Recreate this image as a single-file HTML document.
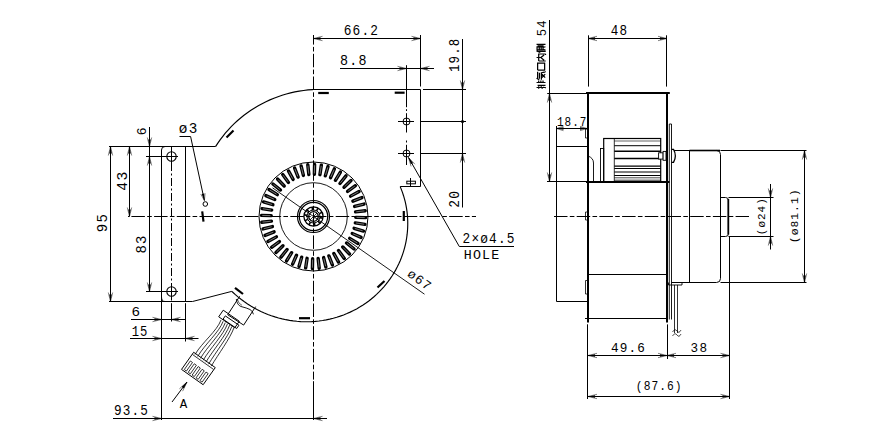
<!DOCTYPE html>
<html><head><meta charset="utf-8"><style>
html,body{margin:0;padding:0;background:#fff;}
body{width:870px;height:445px;overflow:hidden;}
svg{display:block;}
text{font-family:"Liberation Mono",monospace;fill:#000;stroke:none;}
</style></head><body>
<svg width="870" height="445" viewBox="0 0 870 445">
<g fill="none" stroke="#000">
<line x1="128.00" y1="216.50" x2="476.00" y2="216.50" stroke-width="1" stroke-dasharray="13.5 2.3 4.6 2.3" stroke-dashoffset="19.3"/>
<line x1="313.50" y1="35.00" x2="313.50" y2="379.60" stroke-width="1" stroke-dasharray="13.5 2.3 4.6 2.3" stroke-dashoffset="3.9"/>
<line x1="313.50" y1="381.20" x2="313.50" y2="420.00" stroke-width="1.0" />
<path d="M400.18,186.65 L401.41,189.62 L402.53,192.65 L403.54,195.71 L404.45,198.82 L405.26,201.97 L405.95,205.15 L406.53,208.36 L407.01,211.60 L407.36,214.86 L407.61,218.14 L407.74,221.44 L407.75,224.75 L407.65,228.06 L407.43,231.38 L407.09,234.69 L406.64,238.00 L406.07,241.30 L405.38,244.59 L404.57,247.86 L403.65,251.11 L402.61,254.33 L401.46,257.52 L400.19,260.67 L398.81,263.79 L397.32,266.86 L395.72,269.89 L394.00,272.87 L392.18,275.79 L390.26,278.66 L388.22,281.46 L386.09,284.19 L383.86,286.86 L381.52,289.45 L379.10,291.96 L376.58,294.40 L373.97,296.74 L371.27,299.01 L368.49,301.18 L365.63,303.25 L362.69,305.23 L359.67,307.11 L356.58,308.89 L353.43,310.56 L350.21,312.13 L346.93,313.58 L343.59,314.92 L340.20,316.15 L336.76,317.26 L333.28,318.25 L329.75,319.12 L326.19,319.87 L322.60,320.49 L318.98,320.99 L315.33,321.36 L311.67,321.60 L307.99,321.72 L304.30,321.71 L300.60,321.56 L296.90,321.29 L293.21,320.89 L289.52,320.35 L285.85,319.69 L282.19,318.90 L278.56,317.97 L274.95,316.92 L271.38,315.74 L267.83,314.43 L264.33,312.99 L260.88,311.43 L257.47,309.75 L254.12,307.94 L250.82,306.01 L247.59,303.97 L244.42,301.80 L241.33,299.52 L238.31,297.13 L235.37,294.63 L232.51,292.03 L231.81,291.36" stroke-width="1.15" />
<path d="M215.53,146.62 L217.84,143.10 L220.27,139.65 L222.83,136.28 L225.50,132.99 L228.30,129.80 L231.21,126.70 L234.24,123.70 L237.37,120.80 L240.61,118.00 L243.96,115.32 L247.40,112.74 L250.94,110.29 L254.57,107.96 L258.28,105.75 L262.08,103.66 L265.95,101.71 L269.90,99.89 L273.92,98.21 L278.00,96.67 L282.15,95.27 L286.34,94.01 L290.59,92.89 L294.88,91.93 L299.21,91.11 L303.58,90.45 L307.97,89.93 L312.39,89.57 L313.50,89.51" stroke-width="1.15" />
<line x1="313.50" y1="89.50" x2="420.50" y2="89.50" stroke-width="1.0" />
<line x1="420.50" y1="89.50" x2="420.50" y2="186.50" stroke-width="1.0" />
<line x1="400.18" y1="186.50" x2="420.50" y2="186.50" stroke-width="1.0" />
<line x1="109.00" y1="146.50" x2="215.53" y2="146.50" stroke-width="1.0" />
<line x1="109.00" y1="301.50" x2="192.50" y2="301.50" stroke-width="1.0" />
<line x1="192.50" y1="301.50" x2="231.81" y2="291.36" stroke-width="1.0" />
<path d="M161.5,420 L161.5,150 Q161.5,146.5 165,146.5" stroke-width="1" />
<path d="M161.5,297 Q161.5,301.5 165,301.5" stroke-width="1" />
<line x1="185.50" y1="146.50" x2="185.50" y2="301.50" stroke-width="1.0" />
<line x1="185.50" y1="303.20" x2="185.50" y2="341.50" stroke-width="1.0" />
<line x1="171.50" y1="147.00" x2="171.50" y2="163.00" stroke-width="1" />
<line x1="171.50" y1="163.00" x2="171.50" y2="285.00" stroke-width="1" stroke-dasharray="8 2.5 2 2.5"/>
<line x1="171.50" y1="285.00" x2="171.50" y2="300.50" stroke-width="1" />
<line x1="171.50" y1="303.20" x2="171.50" y2="321.50" stroke-width="1" />
<circle cx="171.50" cy="156.50" r="4.70" stroke-width="1.1" />
<line x1="146.00" y1="156.50" x2="178.00" y2="156.50" stroke-width="1.0" />
<circle cx="171.50" cy="291.50" r="4.70" stroke-width="1.1" />
<line x1="146.00" y1="291.50" x2="178.00" y2="291.50" stroke-width="1.0" />
<line x1="110.50" y1="146.50" x2="110.50" y2="301.50" stroke-width="1.0" />
<path d="M112.70,155.50 L110.50,146.50 L108.30,155.50" stroke-width="0.7" stroke-opacity="0.7"/>
<path d="M110.50,146.50 L111.80,153.50 L109.20,153.50Z" stroke-width="0" fill="#000"/>
<path d="M108.30,292.50 L110.50,301.50 L112.70,292.50" stroke-width="0.7" stroke-opacity="0.7"/>
<path d="M110.50,301.50 L109.20,294.50 L111.80,294.50Z" stroke-width="0" fill="#000"/>
<line x1="129.50" y1="146.50" x2="129.50" y2="216.50" stroke-width="1.0" />
<path d="M131.70,155.50 L129.50,146.50 L127.30,155.50" stroke-width="0.7" stroke-opacity="0.7"/>
<path d="M129.50,146.50 L130.80,153.50 L128.20,153.50Z" stroke-width="0" fill="#000"/>
<path d="M127.30,207.50 L129.50,216.50 L131.70,207.50" stroke-width="0.7" stroke-opacity="0.7"/>
<path d="M129.50,216.50 L128.20,209.50 L130.80,209.50Z" stroke-width="0" fill="#000"/>
<line x1="149.50" y1="127.00" x2="149.50" y2="291.50" stroke-width="1.0" />
<path d="M147.30,137.50 L149.50,146.50 L151.70,137.50" stroke-width="0.7" stroke-opacity="0.7"/>
<path d="M149.50,146.50 L148.20,139.50 L150.80,139.50Z" stroke-width="0" fill="#000"/>
<path d="M151.70,165.50 L149.50,156.50 L147.30,165.50" stroke-width="0.7" stroke-opacity="0.7"/>
<path d="M149.50,156.50 L150.80,163.50 L148.20,163.50Z" stroke-width="0" fill="#000"/>
<path d="M147.30,282.50 L149.50,291.50 L151.70,282.50" stroke-width="0.7" stroke-opacity="0.7"/>
<path d="M149.50,291.50 L148.20,284.50 L150.80,284.50Z" stroke-width="0" fill="#000"/>
<g transform="translate(101.90,223.05) scale(1.067,1.073) translate(-95.50,-91.50)"><text x="100" y="100" font-size="13" letter-spacing="1.2" transform="rotate(-90 100 100)">95</text></g>
<g transform="translate(122.20,181.00) scale(1.067,1.133) translate(-95.50,-91.50)"><text x="100" y="100" font-size="13" letter-spacing="1.2" transform="rotate(-90 100 100)">43</text></g>
<g transform="translate(141.70,131.35) scale(1.000,1.000) translate(-95.50,-96.00)"><text x="100" y="100" font-size="13" letter-spacing="1.2" transform="rotate(-90 100 100)">6</text></g>
<g transform="translate(141.40,244.40) scale(1.067,1.067) translate(-95.50,-91.50)"><text x="100" y="100" font-size="13" letter-spacing="1.2" transform="rotate(-90 100 100)">83</text></g>
<line x1="131.00" y1="319.50" x2="185.50" y2="319.50" stroke-width="1.0" />
<path d="M152.50,321.70 L161.50,319.50 L152.50,317.30" stroke-width="0.7" stroke-opacity="0.7"/>
<path d="M161.50,319.50 L154.50,320.80 L154.50,318.20Z" stroke-width="0" fill="#000"/>
<path d="M180.50,317.30 L171.50,319.50 L180.50,321.70" stroke-width="0.7" stroke-opacity="0.7"/>
<path d="M171.50,319.50 L178.50,318.20 L178.50,320.80Z" stroke-width="0" fill="#000"/>
<g transform="translate(135.90,311.30) scale(1.100,1.044) translate(-104.00,-95.50)"><text x="100" y="100" font-size="13" letter-spacing="1.2" transform="rotate(0 100 100)">6</text></g>
<line x1="130.00" y1="338.50" x2="198.50" y2="338.50" stroke-width="1.0" />
<path d="M152.50,340.70 L161.50,338.50 L152.50,336.30" stroke-width="0.7" stroke-opacity="0.7"/>
<path d="M161.50,338.50 L154.50,339.80 L154.50,337.20Z" stroke-width="0" fill="#000"/>
<path d="M194.50,336.30 L185.50,338.50 L194.50,340.70" stroke-width="0.7" stroke-opacity="0.7"/>
<path d="M185.50,338.50 L192.50,337.20 L192.50,339.80Z" stroke-width="0" fill="#000"/>
<g transform="translate(139.65,330.80) scale(0.940,1.067) translate(-108.50,-95.50)"><text x="100" y="100" font-size="13" letter-spacing="1.2" transform="rotate(0 100 100)">15</text></g>
<line x1="113.00" y1="418.50" x2="327.00" y2="418.50" stroke-width="1.0" />
<path d="M152.50,420.70 L161.50,418.50 L152.50,416.30" stroke-width="0.7" stroke-opacity="0.7"/>
<path d="M161.50,418.50 L154.50,419.80 L154.50,417.20Z" stroke-width="0" fill="#000"/>
<path d="M322.50,416.30 L313.50,418.50 L322.50,420.70" stroke-width="0.7" stroke-opacity="0.7"/>
<path d="M313.50,418.50 L320.50,417.20 L320.50,419.80Z" stroke-width="0" fill="#000"/>
<g transform="translate(131.05,409.95) scale(0.979,1.122) translate(-117.50,-95.50)"><text x="100" y="100" font-size="13" letter-spacing="1.2" transform="rotate(0 100 100)">93.5</text></g>
<line x1="313.50" y1="38.50" x2="420.50" y2="38.50" stroke-width="1.0" />
<path d="M322.50,36.30 L313.50,38.50 L322.50,40.70" stroke-width="0.7" stroke-opacity="0.7"/>
<path d="M313.50,38.50 L320.50,37.20 L320.50,39.80Z" stroke-width="0" fill="#000"/>
<path d="M411.50,40.70 L420.50,38.50 L411.50,36.30" stroke-width="0.7" stroke-opacity="0.7"/>
<path d="M420.50,38.50 L413.50,39.80 L413.50,37.20Z" stroke-width="0" fill="#000"/>
<line x1="420.50" y1="35.00" x2="420.50" y2="86.50" stroke-width="1.0" />
<g transform="translate(361.00,30.15) scale(0.988,1.056) translate(-117.50,-95.50)"><text x="100" y="100" font-size="13" letter-spacing="1.2" transform="rotate(0 100 100)">66.2</text></g>
<line x1="340.00" y1="68.50" x2="434.00" y2="68.50" stroke-width="1.0" />
<path d="M397.50,70.70 L406.50,68.50 L397.50,66.30" stroke-width="0.7" stroke-opacity="0.7"/>
<path d="M406.50,68.50 L399.50,69.80 L399.50,67.20Z" stroke-width="0" fill="#000"/>
<path d="M429.50,66.30 L420.50,68.50 L429.50,70.70" stroke-width="0.7" stroke-opacity="0.7"/>
<path d="M420.50,68.50 L427.50,67.20 L427.50,69.80Z" stroke-width="0" fill="#000"/>
<g transform="translate(353.30,59.95) scale(1.025,1.078) translate(-113.00,-95.50)"><text x="100" y="100" font-size="13" letter-spacing="1.2" transform="rotate(0 100 100)">8.8</text></g>
<line x1="406.50" y1="65.20" x2="406.50" y2="107.20" stroke-width="1.0" />
<line x1="406.50" y1="109.20" x2="406.50" y2="111.00" stroke-width="1.0" />
<line x1="406.50" y1="113.20" x2="406.50" y2="132.50" stroke-width="1.0" />
<line x1="406.50" y1="140.50" x2="406.50" y2="142.50" stroke-width="1.0" />
<line x1="406.50" y1="144.80" x2="406.50" y2="165.00" stroke-width="1.0" />
<circle cx="406.50" cy="121.50" r="3.50" stroke-width="1.0" />
<line x1="398.00" y1="121.50" x2="414.00" y2="121.50" stroke-width="1.0" />
<line x1="420.50" y1="121.50" x2="466.00" y2="121.50" stroke-width="1.0" />
<circle cx="406.50" cy="153.50" r="3.50" stroke-width="1.0" />
<line x1="398.00" y1="153.50" x2="414.00" y2="153.50" stroke-width="1.0" />
<line x1="420.50" y1="153.50" x2="466.00" y2="153.50" stroke-width="1.0" />
<line x1="423.00" y1="89.50" x2="466.00" y2="89.50" stroke-width="1.0" />
<line x1="462.50" y1="39.00" x2="462.50" y2="207.50" stroke-width="1.0" />
<path d="M460.30,80.50 L462.50,89.50 L464.70,80.50" stroke-width="0.7" stroke-opacity="0.7"/>
<path d="M462.50,89.50 L461.20,82.50 L463.80,82.50Z" stroke-width="0" fill="#000"/>
<path d="M464.70,162.50 L462.50,153.50 L460.30,162.50" stroke-width="0.7" stroke-opacity="0.7"/>
<path d="M462.50,153.50 L463.80,160.50 L461.20,160.50Z" stroke-width="0" fill="#000"/>
<circle cx="462.50" cy="121.50" r="1.60" stroke-width="0" fill="#000"/>
<g transform="translate(454.35,55.30) scale(1.056,0.952) translate(-95.50,-82.50)"><text x="100" y="100" font-size="13" letter-spacing="1.2" transform="rotate(-90 100 100)">19.8</text></g>
<g transform="translate(454.15,199.28) scale(1.056,0.997) translate(-95.50,-91.50)"><text x="100" y="100" font-size="13" letter-spacing="1.2" transform="rotate(-90 100 100)">20</text></g>
<rect x="406.8" y="181.2" width="8.6" height="2.6" stroke-width="1"/>
<line x1="410.50" y1="178.00" x2="410.50" y2="186.50" stroke-width="1.0" />
<line x1="408.50" y1="157.50" x2="459.30" y2="246.50" stroke-width="1.0" />
<line x1="459.30" y1="246.50" x2="514.00" y2="246.50" stroke-width="1.0" />
<path d="M414.89,164.21 L408.50,157.50 L411.08,166.40" stroke-width="0.7" stroke-opacity="0.7"/>
<path d="M408.50,157.50 L413.12,162.92 L410.86,164.22Z" stroke-width="0" fill="#000"/>
<g transform="translate(488.65,238.15) scale(0.986,1.144) translate(-126.50,-95.50)"><text x="100" y="100" font-size="13" letter-spacing="1.2" transform="rotate(0 100 100)">2×ø4.5</text></g>
<g transform="translate(481.60,254.30) scale(1.024,1.000) translate(-117.50,-95.50)"><text x="100" y="100" font-size="13" letter-spacing="1.2" transform="rotate(0 100 100)">HOLE</text></g>
<circle cx="313.50" cy="216.50" r="54.50" stroke-width="1.0" />
<circle cx="313.50" cy="216.50" r="33.80" stroke-width="0.9" />
<circle cx="313.50" cy="216.50" r="16.00" stroke-width="1.2" />
<circle cx="313.50" cy="216.50" r="14.20" stroke-width="1.2" />
<circle cx="313.50" cy="216.50" r="9.60" stroke-width="1.3" />
<line x1="319.90" y1="217.63" x2="322.95" y2="218.17" stroke-width="1.6" />
<line x1="318.02" y1="221.18" x2="320.17" y2="223.41" stroke-width="1.6" />
<line x1="314.40" y1="222.94" x2="314.84" y2="226.01" stroke-width="1.6" />
<line x1="310.45" y1="222.24" x2="308.99" y2="224.98" stroke-width="1.6" />
<line x1="307.66" y1="219.35" x2="304.87" y2="220.71" stroke-width="1.6" />
<line x1="307.10" y1="215.37" x2="304.05" y2="214.83" stroke-width="1.6" />
<line x1="308.98" y1="211.82" x2="306.83" y2="209.59" stroke-width="1.6" />
<line x1="312.60" y1="210.06" x2="312.16" y2="206.99" stroke-width="1.6" />
<line x1="316.55" y1="210.76" x2="318.01" y2="208.02" stroke-width="1.6" />
<line x1="319.34" y1="213.65" x2="322.13" y2="212.29" stroke-width="1.6" />
<circle cx="313.50" cy="216.50" r="6.50" stroke-width="1.0" />
<circle cx="313.50" cy="216.50" r="4.80" stroke-width="1.3" />
<line x1="310.00" y1="220.00" x2="317.00" y2="213.00" stroke-width="0.8" />
<line x1="311.50" y1="221.00" x2="318.00" y2="214.50" stroke-width="0.6" />
<line x1="355.79" y1="217.39" x2="365.49" y2="217.59" stroke-width="3.4" stroke-linecap="round"/>
<line x1="356.95" y1="217.41" x2="364.32" y2="217.56" stroke-width="0.9" stroke="#fff" stroke-opacity="0.5" stroke-linecap="round"/>
<line x1="355.31" y1="222.90" x2="364.90" y2="224.37" stroke-width="3.4" stroke-linecap="round"/>
<line x1="356.46" y1="223.07" x2="363.75" y2="224.19" stroke-width="0.9" stroke="#fff" stroke-opacity="0.5" stroke-linecap="round"/>
<line x1="354.12" y1="228.30" x2="363.44" y2="231.01" stroke-width="3.4" stroke-linecap="round"/>
<line x1="355.24" y1="228.63" x2="362.32" y2="230.68" stroke-width="0.9" stroke="#fff" stroke-opacity="0.5" stroke-linecap="round"/>
<line x1="352.23" y1="233.50" x2="361.11" y2="237.40" stroke-width="3.4" stroke-linecap="round"/>
<line x1="353.30" y1="233.97" x2="360.05" y2="236.93" stroke-width="0.9" stroke="#fff" stroke-opacity="0.5" stroke-linecap="round"/>
<line x1="349.68" y1="238.41" x2="357.98" y2="243.44" stroke-width="3.4" stroke-linecap="round"/>
<line x1="350.68" y1="239.02" x2="356.98" y2="242.83" stroke-width="0.9" stroke="#fff" stroke-opacity="0.5" stroke-linecap="round"/>
<line x1="346.51" y1="242.95" x2="354.08" y2="249.01" stroke-width="3.4" stroke-linecap="round"/>
<line x1="347.42" y1="243.68" x2="353.17" y2="248.28" stroke-width="0.9" stroke="#fff" stroke-opacity="0.5" stroke-linecap="round"/>
<line x1="342.78" y1="247.03" x2="349.49" y2="254.03" stroke-width="3.4" stroke-linecap="round"/>
<line x1="343.58" y1="247.87" x2="348.69" y2="253.19" stroke-width="0.9" stroke="#fff" stroke-opacity="0.5" stroke-linecap="round"/>
<line x1="338.54" y1="250.59" x2="344.28" y2="258.41" stroke-width="3.4" stroke-linecap="round"/>
<line x1="339.23" y1="251.53" x2="343.60" y2="257.47" stroke-width="0.9" stroke="#fff" stroke-opacity="0.5" stroke-linecap="round"/>
<line x1="333.88" y1="253.57" x2="338.55" y2="262.07" stroke-width="3.4" stroke-linecap="round"/>
<line x1="334.44" y1="254.59" x2="337.99" y2="261.05" stroke-width="0.9" stroke="#fff" stroke-opacity="0.5" stroke-linecap="round"/>
<line x1="328.87" y1="255.91" x2="332.39" y2="264.95" stroke-width="3.4" stroke-linecap="round"/>
<line x1="329.29" y1="257.00" x2="331.97" y2="263.86" stroke-width="0.9" stroke="#fff" stroke-opacity="0.5" stroke-linecap="round"/>
<line x1="323.59" y1="257.58" x2="325.90" y2="267.00" stroke-width="3.4" stroke-linecap="round"/>
<line x1="323.87" y1="258.71" x2="325.63" y2="265.87" stroke-width="0.9" stroke="#fff" stroke-opacity="0.5" stroke-linecap="round"/>
<line x1="318.14" y1="258.54" x2="319.21" y2="268.19" stroke-width="3.4" stroke-linecap="round"/>
<line x1="318.27" y1="259.70" x2="319.08" y2="267.03" stroke-width="0.9" stroke="#fff" stroke-opacity="0.5" stroke-linecap="round"/>
<line x1="312.61" y1="258.79" x2="312.41" y2="268.49" stroke-width="3.4" stroke-linecap="round"/>
<line x1="312.59" y1="259.95" x2="312.44" y2="267.32" stroke-width="0.9" stroke="#fff" stroke-opacity="0.5" stroke-linecap="round"/>
<line x1="307.10" y1="258.31" x2="305.63" y2="267.90" stroke-width="3.4" stroke-linecap="round"/>
<line x1="306.93" y1="259.46" x2="305.81" y2="266.75" stroke-width="0.9" stroke="#fff" stroke-opacity="0.5" stroke-linecap="round"/>
<line x1="301.70" y1="257.12" x2="298.99" y2="266.44" stroke-width="3.4" stroke-linecap="round"/>
<line x1="301.37" y1="258.24" x2="299.32" y2="265.32" stroke-width="0.9" stroke="#fff" stroke-opacity="0.5" stroke-linecap="round"/>
<line x1="296.50" y1="255.23" x2="292.60" y2="264.11" stroke-width="3.4" stroke-linecap="round"/>
<line x1="296.03" y1="256.30" x2="293.07" y2="263.05" stroke-width="0.9" stroke="#fff" stroke-opacity="0.5" stroke-linecap="round"/>
<line x1="291.59" y1="252.68" x2="286.56" y2="260.98" stroke-width="3.4" stroke-linecap="round"/>
<line x1="290.98" y1="253.68" x2="287.17" y2="259.98" stroke-width="0.9" stroke="#fff" stroke-opacity="0.5" stroke-linecap="round"/>
<line x1="287.05" y1="249.51" x2="280.99" y2="257.08" stroke-width="3.4" stroke-linecap="round"/>
<line x1="286.32" y1="250.42" x2="281.72" y2="256.17" stroke-width="0.9" stroke="#fff" stroke-opacity="0.5" stroke-linecap="round"/>
<line x1="282.97" y1="245.78" x2="275.97" y2="252.49" stroke-width="3.4" stroke-linecap="round"/>
<line x1="282.13" y1="246.58" x2="276.81" y2="251.69" stroke-width="0.9" stroke="#fff" stroke-opacity="0.5" stroke-linecap="round"/>
<line x1="279.41" y1="241.54" x2="271.59" y2="247.28" stroke-width="3.4" stroke-linecap="round"/>
<line x1="278.47" y1="242.23" x2="272.53" y2="246.60" stroke-width="0.9" stroke="#fff" stroke-opacity="0.5" stroke-linecap="round"/>
<line x1="276.43" y1="236.88" x2="267.93" y2="241.55" stroke-width="3.4" stroke-linecap="round"/>
<line x1="275.41" y1="237.44" x2="268.95" y2="240.99" stroke-width="0.9" stroke="#fff" stroke-opacity="0.5" stroke-linecap="round"/>
<line x1="274.09" y1="231.87" x2="265.05" y2="235.39" stroke-width="3.4" stroke-linecap="round"/>
<line x1="273.00" y1="232.29" x2="266.14" y2="234.97" stroke-width="0.9" stroke="#fff" stroke-opacity="0.5" stroke-linecap="round"/>
<line x1="272.42" y1="226.59" x2="263.00" y2="228.90" stroke-width="3.4" stroke-linecap="round"/>
<line x1="271.29" y1="226.87" x2="264.13" y2="228.63" stroke-width="0.9" stroke="#fff" stroke-opacity="0.5" stroke-linecap="round"/>
<line x1="271.46" y1="221.14" x2="261.81" y2="222.21" stroke-width="3.4" stroke-linecap="round"/>
<line x1="270.30" y1="221.27" x2="262.97" y2="222.08" stroke-width="0.9" stroke="#fff" stroke-opacity="0.5" stroke-linecap="round"/>
<line x1="271.21" y1="215.61" x2="261.51" y2="215.41" stroke-width="3.4" stroke-linecap="round"/>
<line x1="270.05" y1="215.59" x2="262.68" y2="215.44" stroke-width="0.9" stroke="#fff" stroke-opacity="0.5" stroke-linecap="round"/>
<line x1="271.69" y1="210.10" x2="262.10" y2="208.63" stroke-width="3.4" stroke-linecap="round"/>
<line x1="270.54" y1="209.93" x2="263.25" y2="208.81" stroke-width="0.9" stroke="#fff" stroke-opacity="0.5" stroke-linecap="round"/>
<line x1="272.88" y1="204.70" x2="263.56" y2="201.99" stroke-width="3.4" stroke-linecap="round"/>
<line x1="271.76" y1="204.37" x2="264.68" y2="202.32" stroke-width="0.9" stroke="#fff" stroke-opacity="0.5" stroke-linecap="round"/>
<line x1="274.77" y1="199.50" x2="265.89" y2="195.60" stroke-width="3.4" stroke-linecap="round"/>
<line x1="273.70" y1="199.03" x2="266.95" y2="196.07" stroke-width="0.9" stroke="#fff" stroke-opacity="0.5" stroke-linecap="round"/>
<line x1="277.32" y1="194.59" x2="269.02" y2="189.56" stroke-width="3.4" stroke-linecap="round"/>
<line x1="276.32" y1="193.98" x2="270.02" y2="190.17" stroke-width="0.9" stroke="#fff" stroke-opacity="0.5" stroke-linecap="round"/>
<line x1="280.49" y1="190.05" x2="272.92" y2="183.99" stroke-width="3.4" stroke-linecap="round"/>
<line x1="279.58" y1="189.32" x2="273.83" y2="184.72" stroke-width="0.9" stroke="#fff" stroke-opacity="0.5" stroke-linecap="round"/>
<line x1="284.22" y1="185.97" x2="277.51" y2="178.97" stroke-width="3.4" stroke-linecap="round"/>
<line x1="283.42" y1="185.13" x2="278.31" y2="179.81" stroke-width="0.9" stroke="#fff" stroke-opacity="0.5" stroke-linecap="round"/>
<line x1="288.46" y1="182.41" x2="282.72" y2="174.59" stroke-width="3.4" stroke-linecap="round"/>
<line x1="287.77" y1="181.47" x2="283.40" y2="175.53" stroke-width="0.9" stroke="#fff" stroke-opacity="0.5" stroke-linecap="round"/>
<line x1="293.12" y1="179.43" x2="288.45" y2="170.93" stroke-width="3.4" stroke-linecap="round"/>
<line x1="292.56" y1="178.41" x2="289.01" y2="171.95" stroke-width="0.9" stroke="#fff" stroke-opacity="0.5" stroke-linecap="round"/>
<line x1="298.13" y1="177.09" x2="294.61" y2="168.05" stroke-width="3.4" stroke-linecap="round"/>
<line x1="297.71" y1="176.00" x2="295.03" y2="169.14" stroke-width="0.9" stroke="#fff" stroke-opacity="0.5" stroke-linecap="round"/>
<line x1="303.41" y1="175.42" x2="301.10" y2="166.00" stroke-width="3.4" stroke-linecap="round"/>
<line x1="303.13" y1="174.29" x2="301.37" y2="167.13" stroke-width="0.9" stroke="#fff" stroke-opacity="0.5" stroke-linecap="round"/>
<line x1="308.86" y1="174.46" x2="307.79" y2="164.81" stroke-width="3.4" stroke-linecap="round"/>
<line x1="308.73" y1="173.30" x2="307.92" y2="165.97" stroke-width="0.9" stroke="#fff" stroke-opacity="0.5" stroke-linecap="round"/>
<line x1="314.39" y1="174.21" x2="314.59" y2="164.51" stroke-width="3.4" stroke-linecap="round"/>
<line x1="314.41" y1="173.05" x2="314.56" y2="165.68" stroke-width="0.9" stroke="#fff" stroke-opacity="0.5" stroke-linecap="round"/>
<line x1="319.90" y1="174.69" x2="321.37" y2="165.10" stroke-width="3.4" stroke-linecap="round"/>
<line x1="320.07" y1="173.54" x2="321.19" y2="166.25" stroke-width="0.9" stroke="#fff" stroke-opacity="0.5" stroke-linecap="round"/>
<line x1="325.30" y1="175.88" x2="328.01" y2="166.56" stroke-width="3.4" stroke-linecap="round"/>
<line x1="325.63" y1="174.76" x2="327.68" y2="167.68" stroke-width="0.9" stroke="#fff" stroke-opacity="0.5" stroke-linecap="round"/>
<line x1="330.50" y1="177.77" x2="334.40" y2="168.89" stroke-width="3.4" stroke-linecap="round"/>
<line x1="330.97" y1="176.70" x2="333.93" y2="169.95" stroke-width="0.9" stroke="#fff" stroke-opacity="0.5" stroke-linecap="round"/>
<line x1="335.41" y1="180.32" x2="340.44" y2="172.02" stroke-width="3.4" stroke-linecap="round"/>
<line x1="336.02" y1="179.32" x2="339.83" y2="173.02" stroke-width="0.9" stroke="#fff" stroke-opacity="0.5" stroke-linecap="round"/>
<line x1="339.95" y1="183.49" x2="346.01" y2="175.92" stroke-width="3.4" stroke-linecap="round"/>
<line x1="340.68" y1="182.58" x2="345.28" y2="176.83" stroke-width="0.9" stroke="#fff" stroke-opacity="0.5" stroke-linecap="round"/>
<line x1="344.03" y1="187.22" x2="351.03" y2="180.51" stroke-width="3.4" stroke-linecap="round"/>
<line x1="344.87" y1="186.42" x2="350.19" y2="181.31" stroke-width="0.9" stroke="#fff" stroke-opacity="0.5" stroke-linecap="round"/>
<line x1="347.59" y1="191.46" x2="355.41" y2="185.72" stroke-width="3.4" stroke-linecap="round"/>
<line x1="348.53" y1="190.77" x2="354.47" y2="186.40" stroke-width="0.9" stroke="#fff" stroke-opacity="0.5" stroke-linecap="round"/>
<line x1="350.57" y1="196.12" x2="359.07" y2="191.45" stroke-width="3.4" stroke-linecap="round"/>
<line x1="351.59" y1="195.56" x2="358.05" y2="192.01" stroke-width="0.9" stroke="#fff" stroke-opacity="0.5" stroke-linecap="round"/>
<line x1="352.91" y1="201.13" x2="361.95" y2="197.61" stroke-width="3.4" stroke-linecap="round"/>
<line x1="354.00" y1="200.71" x2="360.86" y2="198.03" stroke-width="0.9" stroke="#fff" stroke-opacity="0.5" stroke-linecap="round"/>
<line x1="354.58" y1="206.41" x2="364.00" y2="204.10" stroke-width="3.4" stroke-linecap="round"/>
<line x1="355.71" y1="206.13" x2="362.87" y2="204.37" stroke-width="0.9" stroke="#fff" stroke-opacity="0.5" stroke-linecap="round"/>
<line x1="355.54" y1="211.86" x2="365.19" y2="210.79" stroke-width="3.4" stroke-linecap="round"/>
<line x1="356.70" y1="211.73" x2="364.03" y2="210.92" stroke-width="0.9" stroke="#fff" stroke-opacity="0.5" stroke-linecap="round"/>
<line x1="272.54" y1="187.83" x2="424.51" y2="294.20" stroke-width="0.9" />
<g transform="translate(419.45,280.00) scale(1.000,1.000) translate(-113.00,-104.50)"><text x="100" y="100" font-size="13" letter-spacing="1.2" transform="rotate(36 100 100)">ø67</text></g>
<line x1="226.50" y1="137.50" x2="233.50" y2="130.50" stroke-width="2.2" stroke-linecap="butt"/>
<line x1="318.20" y1="93.00" x2="328.80" y2="93.00" stroke-width="2.2" stroke-linecap="butt"/>
<line x1="394.70" y1="92.70" x2="404.60" y2="92.70" stroke-width="2.2" stroke-linecap="butt"/>
<line x1="403.80" y1="211.00" x2="403.80" y2="221.00" stroke-width="2.2" stroke-linecap="butt"/>
<line x1="377.50" y1="287.50" x2="384.50" y2="281.00" stroke-width="2.2" stroke-linecap="butt"/>
<line x1="299.00" y1="318.20" x2="310.00" y2="318.20" stroke-width="2.2" stroke-linecap="butt"/>
<line x1="235.00" y1="287.80" x2="243.00" y2="294.00" stroke-width="2.2" stroke-linecap="butt"/>
<line x1="202.20" y1="211.30" x2="203.50" y2="221.70" stroke-width="2.2" stroke-linecap="butt"/>
<g transform="translate(188.15,128.20) scale(1.100,1.067) translate(-108.50,-95.50)"><text x="100" y="100" font-size="13" letter-spacing="1.2" transform="rotate(0 100 100)">ø3</text></g>
<line x1="179.50" y1="136.50" x2="190.60" y2="136.50" stroke-width="1.0" />
<line x1="190.60" y1="136.50" x2="204.40" y2="200.50" stroke-width="1.0" />
<path d="M200.78,194.12 L204.40,200.50 L205.08,193.19" stroke-width="0.7" stroke-opacity="0.7"/>
<path d="M204.40,200.50 L201.66,193.93 L204.20,193.38Z" stroke-width="0" fill="#000"/>
<circle cx="205.30" cy="204.00" r="2.30" stroke-width="1.0" />
<path d="M239.70,296.28 L227.71,314.73 L243.65,325.08 L255.63,306.63" stroke-width="1.0" />
<path d="M236.3,299 Q237,305 241,306.5 Q247,308 250,309.5 Q253,311.5 253.4,314.3" stroke-width="0.9" />
<path d="M237.5,299.5 Q238.5,304 242,305.3" stroke-width="0.6" />
<path d="M223.22,310.19 L239.30,321.21 L234.78,327.81 L218.70,316.79Z" stroke-width="1.0" />
<path d="M225.32,315.89 L238.94,325.21 L236.68,328.51 L223.06,319.19Z" stroke-width="1.0" />
<path d="M221.00,320.00 C217.00,331.00 202.00,342.50 195.00,354.50" stroke-width="0.8" />
<path d="M223.17,321.28 C219.17,332.28 204.72,344.43 197.72,356.43" stroke-width="0.8" />
<path d="M225.33,322.57 C221.33,333.57 207.44,346.35 200.44,358.35" stroke-width="0.8" />
<path d="M227.50,323.85 C223.50,334.85 210.16,348.28 203.16,360.28" stroke-width="0.8" />
<path d="M229.67,325.13 C225.67,336.13 212.88,350.20 205.88,362.20" stroke-width="0.8" />
<path d="M231.83,326.42 C227.83,337.42 215.60,352.13 208.60,364.13" stroke-width="0.8" />
<path d="M234.00,327.70 C230.00,338.70 218.32,354.06 211.32,366.06" stroke-width="0.8" />
<path d="M193.65,352.27 L215.28,367.59 L203.15,384.73 L181.52,369.41Z" stroke-width="1.0" />
<line x1="192.41" y1="354.46" x2="213.63" y2="369.48" stroke-width="0.8" />
<path d="M190.37,360.98 L184.30,369.55 L186.43,371.05 L192.49,362.48Z" stroke-width="0.8" />
<path d="M194.29,363.75 L188.22,372.32 L190.34,373.82 L196.41,365.25Z" stroke-width="0.8" />
<path d="M198.21,366.52 L192.14,375.09 L194.26,376.60 L200.33,368.03Z" stroke-width="0.8" />
<path d="M202.12,369.30 L196.06,377.87 L198.18,379.37 L204.25,370.80Z" stroke-width="0.8" />
<path d="M206.04,372.07 L199.97,380.64 L202.10,382.14 L208.16,373.57Z" stroke-width="0.8" />
<line x1="172.00" y1="402.00" x2="187.00" y2="382.00" stroke-width="1.0" />
<path d="M182.60,391.20 L187.00,382.00 L179.40,388.80" stroke-width="0.7" stroke-opacity="0.7"/>
<path d="M187.00,382.00 L183.84,388.38 L181.76,386.82Z" stroke-width="0" fill="#000"/>
<g transform="translate(183.65,403.15) scale(0.962,1.033) translate(-104.00,-95.50)"><text x="100" y="100" font-size="13" letter-spacing="1.2" transform="rotate(0 100 100)">A</text></g>
<line x1="547.20" y1="93.50" x2="586.00" y2="93.50" stroke-width="1.0" />
<line x1="586.00" y1="93.00" x2="669.80" y2="93.00" stroke-width="2.0" />
<line x1="588.50" y1="35.30" x2="588.50" y2="86.60" stroke-width="1" />
<line x1="666.50" y1="35.30" x2="666.50" y2="86.60" stroke-width="1" />
<line x1="588.00" y1="92.00" x2="588.00" y2="322.60" stroke-width="2.0" />
<line x1="667.00" y1="92.00" x2="667.00" y2="322.40" stroke-width="2.0" />
<line x1="547.00" y1="181.50" x2="586.00" y2="181.50" stroke-width="1.0" />
<line x1="586.00" y1="182.00" x2="669.50" y2="182.00" stroke-width="2.0" />
<line x1="588.00" y1="274.50" x2="667.00" y2="274.50" stroke-width="1.0" />
<line x1="585.00" y1="318.50" x2="667.00" y2="318.50" stroke-width="1.2" />
<line x1="588.00" y1="38.50" x2="667.00" y2="38.50" stroke-width="1.0" />
<path d="M597.00,36.30 L588.00,38.50 L597.00,40.70" stroke-width="0.7" stroke-opacity="0.7"/>
<path d="M588.00,38.50 L595.00,37.20 L595.00,39.80Z" stroke-width="0" fill="#000"/>
<path d="M658.00,40.70 L667.00,38.50 L658.00,36.30" stroke-width="0.7" stroke-opacity="0.7"/>
<path d="M667.00,38.50 L660.00,39.80 L660.00,37.20Z" stroke-width="0" fill="#000"/>
<g transform="translate(618.45,29.95) scale(0.969,1.078) translate(-108.00,-95.50)"><text x="100" y="100" font-size="13" letter-spacing="1.2" transform="rotate(0 100 100)">48</text></g>
<line x1="549.50" y1="20.00" x2="549.50" y2="182.00" stroke-width="1.0" />
<path d="M551.70,102.50 L549.50,93.50 L547.30,102.50" stroke-width="0.7" stroke-opacity="0.7"/>
<path d="M549.50,93.50 L550.80,100.50 L548.20,100.50Z" stroke-width="0" fill="#000"/>
<path d="M547.30,172.50 L549.50,181.50 L551.70,172.50" stroke-width="0.7" stroke-opacity="0.7"/>
<path d="M549.50,181.50 L548.20,174.50 L550.80,174.50Z" stroke-width="0" fill="#000"/>
<g transform="translate(541.65,28.15) scale(1.011,0.940) translate(-95.50,-91.50)"><text x="100" y="100" font-size="13" letter-spacing="1.2" transform="rotate(-90 100 100)">54</text></g>
<g transform="translate(536.0,89.3) rotate(-90) scale(1.0,1.08)"><g transform="translate(0.00,0)"><path d="M0.5,2.5 H3 M1.8,0.5 V8.5 Q1.8,9 1.2,8.6 M0.5,6 L3,4.5 M4,1.5 V8.8 M6.8,0.5 V8.8 M3.2,3 H4 M3.2,5 H4 M3,7 H4 M6.8,2.5 H8.8 M6.8,4.5 H8.8 M6.8,6.5 H8.8" stroke-width="1.15"/></g><g transform="translate(9.10,0)"><path d="M2,0.5 L0.5,3 M1.5,1.5 H8.5 M1.5,3.2 H7.5 M0.5,5 H7.5 Q8,9 8.8,8.5 M2.5,5.5 L6,8.5 M6,5.5 L2.5,8.5" stroke-width="1.15"/></g><g transform="translate(18.20,0)"><path d="M1,1.5 V8.5 M1,1.5 H8 V8.5 M1,8 H8" stroke-width="1.15"/></g><g transform="translate(27.30,0)"><path d="M1,2.5 V9 M1,2.5 H8 V8.5 Q8,9 7,8.8 M4.5,0.5 V4.5 L1.8,7.5 M4.5,4.5 L7,7.5" stroke-width="1.15"/></g><g transform="translate(36.40,0)"><path d="M2,0.5 L0.5,4 M1.5,2.5 V9 M3,1 H6 V6.5 H3 Z M3,3 H6 M3,4.8 H6 M3.5,6.5 L2.8,8.8 M5.5,6.5 L6.2,8.8 M7,1.5 V7 M8.5,0.5 V8.8" stroke-width="1.15"/></g></g>
<line x1="556.50" y1="126.00" x2="556.50" y2="301.50" stroke-width="1.0" />
<line x1="556.50" y1="146.50" x2="588.00" y2="146.50" stroke-width="1.0" />
<line x1="556.50" y1="301.50" x2="588.00" y2="301.50" stroke-width="1.0" />
<line x1="556.50" y1="128.50" x2="588.00" y2="128.50" stroke-width="1.0" />
<path d="M563.50,126.30 L556.50,128.50 L563.50,130.70" stroke-width="0.7" stroke-opacity="0.7"/>
<path d="M556.50,128.50 L563.50,127.20 L563.50,129.80Z" stroke-width="0" fill="#000"/>
<path d="M580.00,130.70 L587.00,128.50 L580.00,126.30" stroke-width="0.7" stroke-opacity="0.7"/>
<path d="M587.00,128.50 L580.00,129.80 L580.00,127.20Z" stroke-width="0" fill="#000"/>
<g transform="translate(571.75,121.60) scale(0.845,0.978) translate(-117.50,-95.50)"><text x="100" y="100" font-size="13" letter-spacing="1.2" transform="rotate(0 100 100)">18.7</text></g>
<path d="M588,129 H585.5 V138 H588" stroke-width="0.8" />
<path d="M588,212 H585.5 V220 H588" stroke-width="0.8" />
<path d="M588,280.5 H585.5 V294 H588" stroke-width="0.8" />
<path d="M588,156 Q593.5,158 593.5,163 V181" stroke-width="0.9" />
<rect x="600.5" y="148.5" width="3.2" height="33" stroke-width="0.9"/>
<rect x="603.7" y="138.5" width="57" height="43.5" stroke-width="1.2"/>
<line x1="614.30" y1="138.50" x2="614.30" y2="182.00" stroke-width="0.8" />
<line x1="614.30" y1="141.00" x2="660.70" y2="141.00" stroke-width="1.2" stroke-opacity="0.6"/>
<line x1="614.30" y1="145.70" x2="660.70" y2="145.70" stroke-width="1.3" stroke-opacity="0.8"/>
<line x1="614.30" y1="151.30" x2="660.70" y2="151.30" stroke-width="1.5" stroke-opacity="1"/>
<line x1="614.30" y1="158.50" x2="660.70" y2="158.50" stroke-width="1.4" stroke-opacity="1"/>
<line x1="614.30" y1="166.10" x2="660.70" y2="166.10" stroke-width="1.4" stroke-opacity="1"/>
<line x1="614.30" y1="168.50" x2="660.70" y2="168.50" stroke-width="1.0" stroke-opacity="1"/>
<line x1="614.30" y1="172.00" x2="660.70" y2="172.00" stroke-width="1.2" stroke-opacity="1"/>
<line x1="614.30" y1="175.50" x2="660.70" y2="175.50" stroke-width="1.2" stroke-opacity="1"/>
<line x1="614.30" y1="177.80" x2="660.70" y2="177.80" stroke-width="1.0" stroke-opacity="0.7"/>
<line x1="614.30" y1="180.20" x2="660.70" y2="180.20" stroke-width="1.0" stroke-opacity="0.8"/>
<rect x="658.6" y="152.8" width="4.5" height="6.3" stroke-width="0.9" fill="#fff"/>
<rect x="663.1" y="151.4" width="2.9" height="8.9" stroke-width="0.9" fill="#fff"/>
<line x1="669.30" y1="124.00" x2="669.30" y2="319.50" stroke-width="0.9" />
<line x1="671.50" y1="124.00" x2="671.50" y2="319.50" stroke-width="0.9" />
<line x1="669.30" y1="124.00" x2="671.50" y2="124.00" stroke-width="0.9" />
<path d="M671.5,149.3 H673.5 Q677.2,156 673.5,162.4 H671.5" stroke-width="1.3" />
<path d="M674,150.5 H716.7 Q720.5,150.5 720.5,154.5 V278.5 Q720.5,282.5 716.5,282.5 H671.5" stroke-width="1.0" />
<line x1="689.50" y1="150.50" x2="720.00" y2="150.50" stroke-width="1.6" />
<line x1="689.50" y1="150.50" x2="689.50" y2="282.50" stroke-width="1.0" />
<path d="M720.5,197.5 H725.5 Q728.5,197.5 728.5,200.5 V233.5 Q728.5,236.5 725.5,236.5 H720.5" stroke-width="1.0" />
<line x1="728.30" y1="199.00" x2="728.30" y2="234.50" stroke-width="1.8" />
<line x1="729.50" y1="236.50" x2="729.50" y2="399.00" stroke-width="1.0" />
<line x1="720.50" y1="150.50" x2="806.50" y2="150.50" stroke-width="1.0" />
<line x1="720.50" y1="282.50" x2="806.50" y2="282.50" stroke-width="1.0" />
<line x1="728.50" y1="197.50" x2="773.50" y2="197.50" stroke-width="1.0" />
<line x1="728.50" y1="236.50" x2="773.50" y2="236.50" stroke-width="1.0" />
<line x1="770.50" y1="184.00" x2="770.50" y2="249.50" stroke-width="1.0" />
<path d="M768.30,188.50 L770.50,197.50 L772.70,188.50" stroke-width="0.7" stroke-opacity="0.7"/>
<path d="M770.50,197.50 L769.20,190.50 L771.80,190.50Z" stroke-width="0" fill="#000"/>
<path d="M772.70,245.50 L770.50,236.50 L768.30,245.50" stroke-width="0.7" stroke-opacity="0.7"/>
<path d="M770.50,236.50 L771.80,243.50 L769.20,243.50Z" stroke-width="0" fill="#000"/>
<g transform="translate(762.15,216.60) scale(0.880,0.845) translate(-97.00,-78.00)"><text x="100" y="100" font-size="13" letter-spacing="1.2" transform="rotate(-90 100 100)">(ø24)</text></g>
<line x1="804.50" y1="150.50" x2="804.50" y2="282.50" stroke-width="1.0" />
<path d="M806.70,159.50 L804.50,150.50 L802.30,159.50" stroke-width="0.7" stroke-opacity="0.7"/>
<path d="M804.50,150.50 L805.80,157.50 L803.20,157.50Z" stroke-width="0" fill="#000"/>
<path d="M802.30,273.50 L804.50,282.50 L806.70,273.50" stroke-width="0.7" stroke-opacity="0.7"/>
<path d="M804.50,282.50 L803.20,275.50 L805.80,275.50Z" stroke-width="0" fill="#000"/>
<g transform="translate(795.75,216.20) scale(0.880,0.869) translate(-97.00,-69.00)"><text x="100" y="100" font-size="13" letter-spacing="1.2" transform="rotate(-90 100 100)">(ø81.1)</text></g>
<path d="M668.5,282.5 V285 H682 V282.5" stroke-width="0.9" />
<line x1="674.50" y1="285.00" x2="674.50" y2="333.00" stroke-width="0.8" />
<line x1="677.50" y1="285.00" x2="677.50" y2="333.00" stroke-width="0.8" />
<path d="M672.5,336 Q675,332 677,335 Q679,338 681,334" stroke-width="0.7" />
<path d="M672.5,332 Q675,328 677,331 Q679,334 681,330" stroke-width="0.7" />
<line x1="554.00" y1="216.50" x2="749.00" y2="216.50" stroke-width="1" stroke-dasharray="13.5 2.3 4.6 2.3"/>
<line x1="587.50" y1="324.30" x2="587.50" y2="399.00" stroke-width="1.0" />
<line x1="667.50" y1="324.40" x2="667.50" y2="359.00" stroke-width="1.0" />
<line x1="588.00" y1="355.50" x2="729.50" y2="355.50" stroke-width="1.0" />
<path d="M597.00,353.30 L588.00,355.50 L597.00,357.70" stroke-width="0.7" stroke-opacity="0.7"/>
<path d="M588.00,355.50 L595.00,354.20 L595.00,356.80Z" stroke-width="0" fill="#000"/>
<path d="M658.00,357.70 L667.00,355.50 L658.00,353.30" stroke-width="0.7" stroke-opacity="0.7"/>
<path d="M667.00,355.50 L660.00,356.80 L660.00,354.20Z" stroke-width="0" fill="#000"/>
<path d="M676.00,353.30 L667.00,355.50 L676.00,357.70" stroke-width="0.7" stroke-opacity="0.7"/>
<path d="M667.00,355.50 L674.00,354.20 L674.00,356.80Z" stroke-width="0" fill="#000"/>
<path d="M720.50,357.70 L729.50,355.50 L720.50,353.30" stroke-width="0.7" stroke-opacity="0.7"/>
<path d="M729.50,355.50 L722.50,356.80 L722.50,354.20Z" stroke-width="0" fill="#000"/>
<g transform="translate(627.60,347.70) scale(0.976,1.044) translate(-117.00,-95.50)"><text x="100" y="100" font-size="13" letter-spacing="1.2" transform="rotate(0 100 100)">49.6</text></g>
<g transform="translate(698.90,347.70) scale(0.973,1.044) translate(-108.50,-95.50)"><text x="100" y="100" font-size="13" letter-spacing="1.2" transform="rotate(0 100 100)">38</text></g>
<line x1="588.00" y1="396.50" x2="729.50" y2="396.50" stroke-width="1.0" />
<path d="M597.00,394.30 L588.00,396.50 L597.00,398.70" stroke-width="0.7" stroke-opacity="0.7"/>
<path d="M588.00,396.50 L595.00,395.20 L595.00,397.80Z" stroke-width="0" fill="#000"/>
<path d="M720.50,398.70 L729.50,396.50 L720.50,394.30" stroke-width="0.7" stroke-opacity="0.7"/>
<path d="M729.50,396.50 L722.50,397.80 L722.50,395.20Z" stroke-width="0" fill="#000"/>
<g transform="translate(658.80,387.60) scale(0.865,0.950) translate(-126.50,-97.00)"><text x="100" y="100" font-size="13" letter-spacing="1.2" transform="rotate(0 100 100)">(87.6)</text></g>
</g>
</svg>
</body></html>
